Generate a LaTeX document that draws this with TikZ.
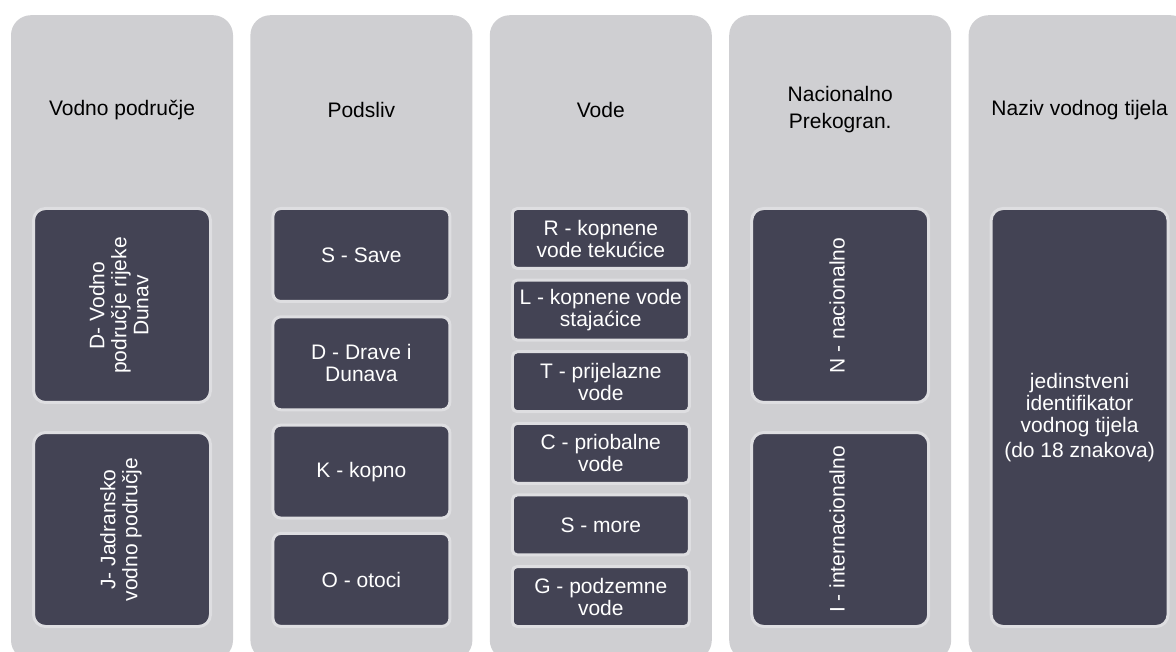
\documentclass[tikz,border=0pt]{standalone}
\usepackage{fontspec}
\setmainfont{Liberation Sans}
\usepackage{graphicx}
\definecolor{columngrey}{RGB}{207,207,210}
\definecolor{itemdark}{RGB}{67,67,84}
\definecolor{itemedge}{RGB}{222,222,225}
\usetikzlibrary{positioning}
\newcommand{\uptext}[1]{\rotatebox{90}{\begin{tabular}{@{}c@{}}#1\end{tabular}}}

\begin{document}
\begin{tikzpicture}[
    x=1pt, y=-1pt,
    every node/.style={font=\fontsize{21}{22}\selectfont},
    column/.style={rectangle, rounded corners=20pt, fill=columngrey, minimum width=222pt,
                   minimum height=645pt, anchor=north, inner sep=0pt},
    header/.style={align=center, font=\fontsize{21}{27}\selectfont},
    item/.style={rectangle, rounded corners=12pt, draw=itemedge, line width=3pt, fill=itemdark,
                 text=white, align=center, minimum width=177pt, inner sep=0pt, outer sep=0pt},
    smallitem/.style={item, rounded corners=8pt, minimum height=93pt},
    tinyitem/.style={item, rounded corners=5pt, minimum height=60pt}
  ]
  \useasboundingbox (0,0) rectangle (1176,652);
  \clip (0,0) rectangle (1176,652);
  \coordinate (headline) at (0,110);
  \coordinate (itemtop) at (0,208.5);

  \node[column] (areacol) at (122,15) {};
  \node[column, right=17pt of areacol] (basincol) {};
  \node[column, right=17pt of basincol] (watercol) {};
  \node[column, right=17pt of watercol] (nationcol) {};
  \node[column, right=17pt of nationcol] (namecol) {};

  \node[header] (areahead) at (areacol |- headline) {Vodno područje};
  \node[header] (basinhead) at (basincol |- headline) {Podsliv};
  \node[header] (waterhead) at (watercol |- headline) {Vode};
  \node[header] (nationhead) at (nationcol |- headline) {Nacionalno\\Prekogran.};
  \node[header] (namehead) at (namecol |- headline) {Naziv vodnog tijela};

  \node[item, minimum height=194pt, anchor=north] (dunav) at (areacol |- itemtop) {\uptext{D- Vodno\\područje rijeke\\Dunav}};
  \node[item, minimum height=194pt, below=30pt of dunav] (jadran) {\uptext{J- Jadransko\\vodno područje}};

  \node[smallitem, anchor=north] (save) at (basincol |- itemtop) {S - Save};
  \node[smallitem, below=15.3pt of save] (drava) {D - Drave i\\Dunava};
  \node[smallitem, below=15.3pt of drava] (kopno) {K - kopno};
  \node[smallitem, below=15.3pt of kopno] (otoci) {O - otoci};

  \node[tinyitem, anchor=north] (tekuce) at (watercol |- itemtop) {R - kopnene\\vode tekućice};
  \node[tinyitem, below=11.6pt of tekuce] (stajace) {L - kopnene vode\\stajaćice};
  \node[tinyitem, below=11.6pt of stajace] (prijelazne) {T - prijelazne\\vode};
  \node[tinyitem, below=11.6pt of prijelazne] (priobalne) {C - priobalne\\vode};
  \node[tinyitem, below=11.6pt of priobalne] (more) {S - more};
  \node[tinyitem, below=11.6pt of more] (podzemne) {G - podzemne\\vode};

  \node[item, minimum height=194pt, anchor=north] (nacionalno) at (nationcol |- itemtop) {\uptext{N - nacionalno}};
  \node[item, minimum height=194pt, below=30pt of nacionalno] (internacionalno) {\uptext{I - internacionalno}};

  \node[item, minimum height=418pt, anchor=north] (oznaka) at (namecol |- itemtop) {jedinstveni\\identifikator\\vodnog tijela\\[3pt](do 18 znakova)};
\end{tikzpicture}
\end{document}
